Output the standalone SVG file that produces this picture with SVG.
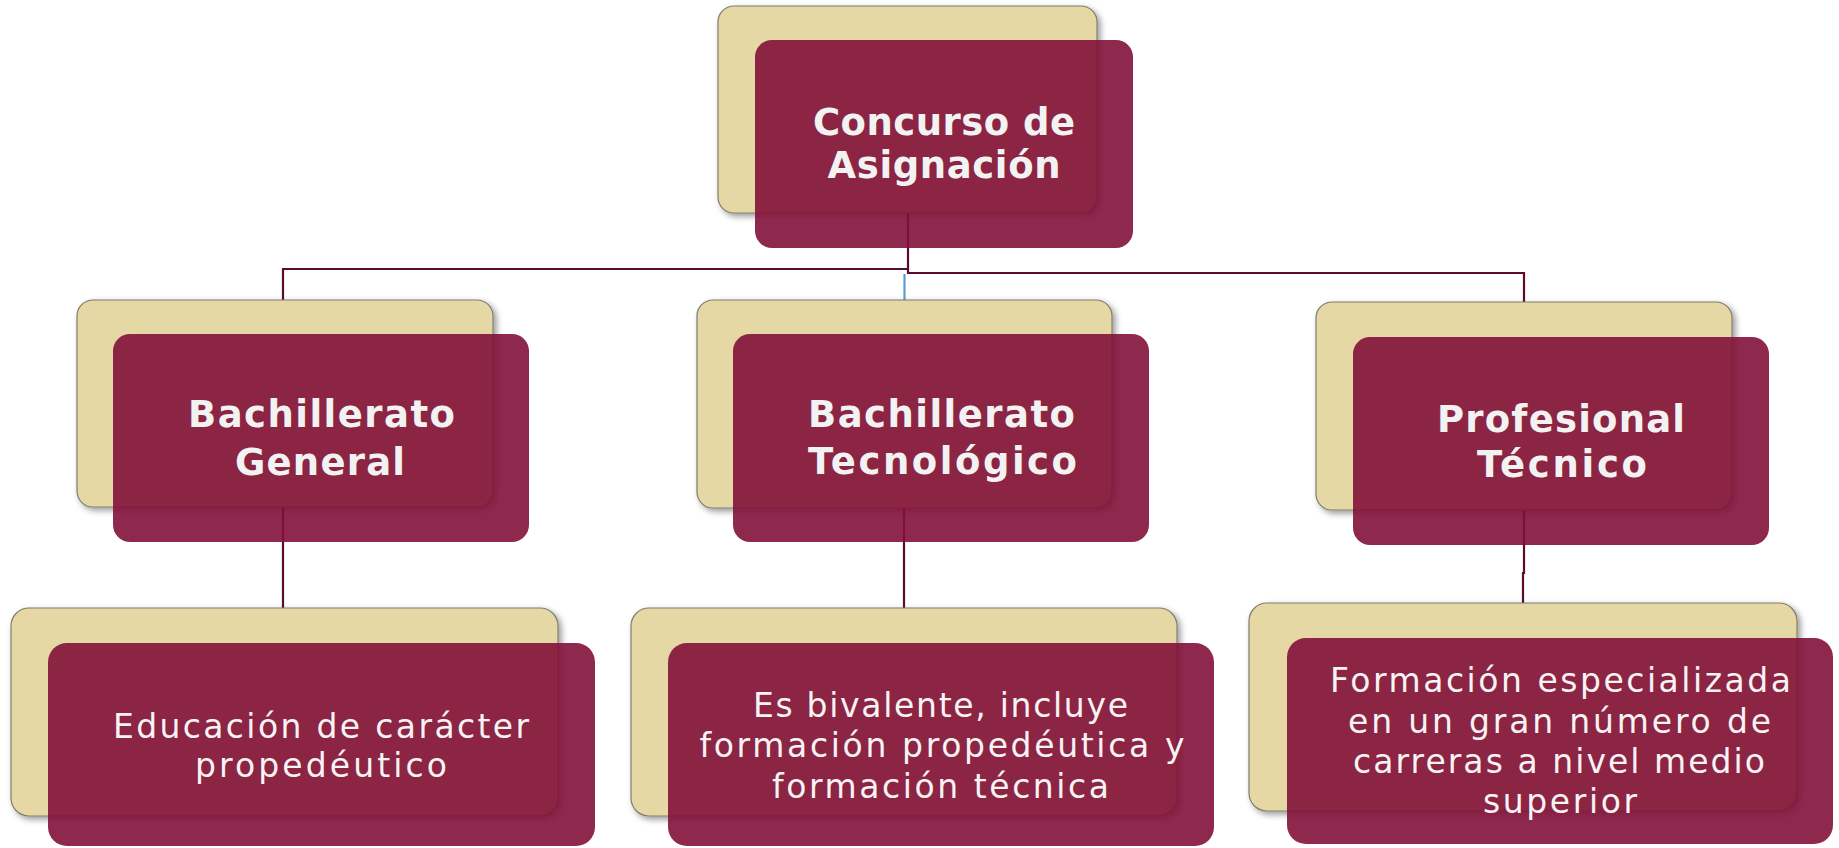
<svg xmlns="http://www.w3.org/2000/svg" width="1839" height="848" viewBox="0 0 1839 848">
<defs>
<filter id="sh" x="-5%" y="-5%" width="115%" height="120%">
<feDropShadow dx="3" dy="3" stdDeviation="3" flood-color="#000" flood-opacity="0.4"/>
</filter>
<style>
.tan{fill:#e5d8a5;stroke:#807d6c;stroke-width:1.2;filter:url(#sh)}
.mar{fill:#821139;fill-opacity:0.9}
.b{font-family:"DejaVu Sans","Open Sans",sans-serif;font-weight:700;font-size:37px;fill:#f2f2f2;text-anchor:middle}
.l{font-family:"DejaVu Sans","Open Sans",sans-serif;font-weight:400;font-size:33px;fill:#f7f2f4;text-anchor:middle}
.c{fill:none;stroke:#5a0b30;stroke-width:2.2}
</style>
</defs>
<rect width="1839" height="848" fill="#fff"/>
<g id="connectors">
<path class="c" d="M283 300 V269 H908 V213"/>
<path class="c" d="M908 269 V273 H1524 V302"/>
<path d="M904.5 274 V300" fill="none" stroke="#5b9bd5" stroke-width="2.2"/>
<path class="c" d="M283 507 V608"/>
<path class="c" d="M904 508 V608"/>
<path class="c" d="M1524 510 V573 H1523 V603"/>
</g>
<g id="n-concurso">
<rect class="tan" x="718" y="6" width="379" height="207" rx="16"/>
<rect class="mar" x="755" y="40" width="378" height="208" rx="17"/>
<text class="b" x="944" y="135" textLength="262" lengthAdjust="spacing">Concurso de</text>
<text class="b" x="944" y="178" textLength="233" lengthAdjust="spacing">Asignación</text>
</g>
<g id="n-bg">
<rect class="tan" x="77" y="300" width="416" height="207" rx="16"/>
<rect class="mar" x="113" y="334" width="416" height="208" rx="17"/>
<text class="b" x="321.5" y="427" textLength="267" lengthAdjust="spacing">Bachillerato</text>
<text class="b" x="320" y="475" textLength="170" lengthAdjust="spacing">General</text>
</g>
<g id="n-bt">
<rect class="tan" x="697" y="300" width="415" height="208" rx="16"/>
<rect class="mar" x="733" y="334" width="416" height="208" rx="17"/>
<text class="b" x="941.5" y="427" textLength="267" lengthAdjust="spacing">Bachillerato</text>
<text class="b" x="942.5" y="474" textLength="269" lengthAdjust="spacing">Tecnológico</text>
</g>
<g id="n-pt">
<rect class="tan" x="1316" y="302" width="416" height="208" rx="16"/>
<rect class="mar" x="1353" y="337" width="416" height="208" rx="17"/>
<text class="b" x="1561" y="432" textLength="248" lengthAdjust="spacing">Profesional</text>
<text class="b" x="1562" y="477" textLength="170" lengthAdjust="spacing">Técnico</text>
</g>
<g id="n-bg-desc">
<rect class="tan" x="11" y="608" width="547" height="208" rx="18"/>
<rect class="mar" x="48" y="643" width="547" height="203" rx="19"/>
<text class="l" x="321" y="738" textLength="416" lengthAdjust="spacing">Educación de carácter</text>
<text class="l" x="321" y="777" textLength="252" lengthAdjust="spacing">propedéutico</text>
</g>
<g id="n-bt-desc">
<rect class="tan" x="631" y="608" width="546" height="208" rx="18"/>
<rect class="mar" x="668" y="643" width="546" height="203" rx="19"/>
<text class="l" x="940.5" y="717" textLength="375" lengthAdjust="spacing">Es bivalente, incluye</text>
<text class="l" x="942" y="757" textLength="485" lengthAdjust="spacing">formación propedéutica y</text>
<text class="l" x="940.5" y="798" textLength="337" lengthAdjust="spacing">formación técnica</text>
</g>
<g id="n-pt-desc">
<rect class="tan" x="1249" y="603" width="548" height="208" rx="18"/>
<rect class="mar" x="1287" y="638" width="546" height="206" rx="19"/>
<text class="l" x="1560.5" y="692" textLength="461" lengthAdjust="spacing">Formación especializada</text>
<text class="l" x="1559.5" y="733" textLength="423" lengthAdjust="spacing">en un gran número de</text>
<text class="l" x="1559" y="773" textLength="412" lengthAdjust="spacing">carreras a nivel medio</text>
<text class="l" x="1560" y="813" textLength="154" lengthAdjust="spacing">superior</text>
</g>
</svg>
